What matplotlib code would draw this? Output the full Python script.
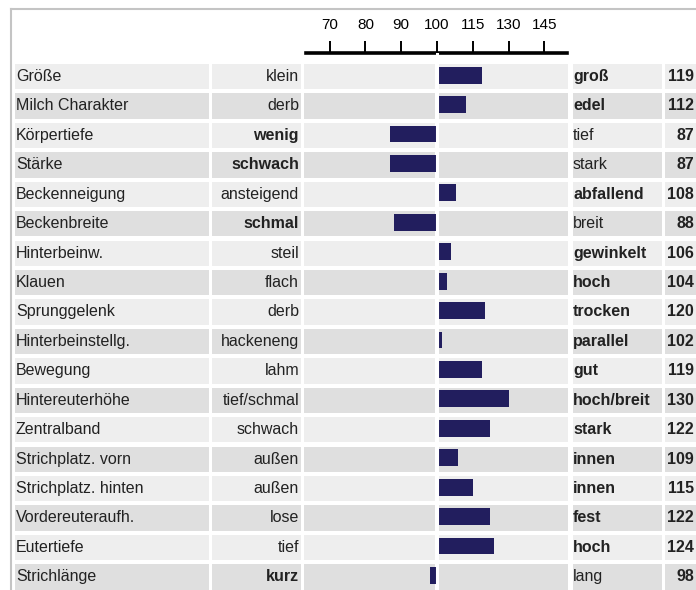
import matplotlib.pyplot as plt
import numpy as np
from matplotlib.patches import Rectangle

plt.rcParams['font.family'] = ['Liberation Sans', 'DejaVu Sans']

# Daten
merkmale = ['Größe', 'Milch Charakter', 'Körpertiefe', 'Stärke', 'Beckenneigung',
            'Beckenbreite', 'Hinterbeinw.', 'Klauen', 'Sprunggelenk',
            'Hinterbeinstellg.', 'Bewegung', 'Hintereuterhöhe', 'Zentralband',
            'Strichplatz. vorn', 'Strichplatz. hinten', 'Vordereuteraufh.',
            'Eutertiefe', 'Strichlänge']
links = ['klein', 'derb', 'wenig', 'schwach', 'ansteigend', 'schmal', 'steil',
         'flach', 'derb', 'hackeneng', 'lahm', 'tief/schmal', 'schwach', 'außen',
         'außen', 'lose', 'tief', 'kurz']
rechts = ['groß', 'edel', 'tief', 'stark', 'abfallend', 'breit', 'gewinkelt',
          'hoch', 'trocken', 'parallel', 'gut', 'hoch/breit', 'stark', 'innen',
          'innen', 'fest', 'hoch', 'lang']
werte = [119, 112, 87, 87, 108, 88, 106, 104, 120, 102, 119, 130, 122, 109,
         115, 122, 124, 98]
ticks = [70, 80, 90, 100, 115, 130, 145]

W, H = 696, 590
fig = plt.figure(figsize=(W / 100, H / 100), dpi=100)

# Hintergrund / Tabelle in Pixelkoordinaten
bg = fig.add_axes([0, 0, 1, 1])
bg.set_xlim(0, W)
bg.set_ylim(H, 0)
bg.axis('off')

bg.plot([11, W], [9, 9], color='#c4c4c4', lw=1.5)
bg.plot([11, 11], [9, H], color='#c4c4c4', lw=1.5)

row0, pitch, cell_h = 64, 29.43, 25.3
cols = [(14.5, 209), (212, 301), (304, 435), (438, 568), (573, 662), (665, 710)]
fs = 11.5
for i in range(len(merkmale)):
    top = row0 + pitch * i
    farbe = '#eeeeee' if i % 2 == 0 else '#dfdfdf'
    for x0, x1 in cols:
        bg.add_patch(Rectangle((x0, top), x1 - x0, cell_h, color=farbe, lw=0))
    base = top + 17
    links_fett = werte[i] < 100
    bg.text(16, base, merkmale[i], fontsize=fs, va='baseline', ha='left', color='#222222')
    bg.text(299, base, links[i], fontsize=fs, va='baseline', ha='right', color='#222222',
            fontweight='bold' if links_fett else 'normal')
    bg.text(573, base, rechts[i], fontsize=fs, va='baseline', ha='left', color='#222222',
            fontweight='normal' if links_fett else 'bold')
    bg.text(694, base, str(werte[i]), fontsize=fs, va='baseline', ha='right',
            color='#222222', fontweight='bold')


# Balken mit geknickter Skala (links 10er, rechts 15er Schritte)
def fwd(v):
    v = np.asarray(v, dtype=float)
    return np.where(v < 100, (v - 100) / 10, (v - 100) / 15)


def inv(f):
    f = np.asarray(f, dtype=float)
    return np.where(f < 0, f * 10 + 100, f * 15 + 100)


ax_top, ax_bot, ax_l, ax_r = 52.5, H, 306, 567
ax = fig.add_axes([ax_l / W, 1 - ax_bot / H, (ax_r - ax_l) / W, (ax_bot - ax_top) / H])
ax.patch.set_alpha(0)
ax.set_xscale('function', functions=(fwd, inv))
px_per = 35.8
ax.set_xlim(float(inv((ax_l - 437) / px_per)), float(inv((ax_r - 437) / px_per)))
ax.set_ylim((ax_bot - 76.6) / pitch, (ax_top - 76.6) / pitch)

y = np.arange(len(werte))
ax.barh(y - 0.05, np.array(werte) - 100, left=100, height=0.57, color='#221e5e', zorder=2)
ax.axvline(100, color='white', lw=2.2, zorder=3)

for s in ['left', 'right', 'bottom']:
    ax.spines[s].set_visible(False)
ax.spines['top'].set_linewidth(2.6)
ax.spines['top'].set_color('black')
ax.set_yticks([])
ax.xaxis.set_ticks_position('top')
ax.set_xticks(ticks)
ax.set_xticklabels([str(t) for t in ticks])
ax.xaxis.set_minor_locator(plt.NullLocator())
ax.tick_params(axis='x', direction='out', length=8.5, width=1.4, pad=6,
               labelsize=11, colors='black')

plt.savefig('out.png', dpi=100)
